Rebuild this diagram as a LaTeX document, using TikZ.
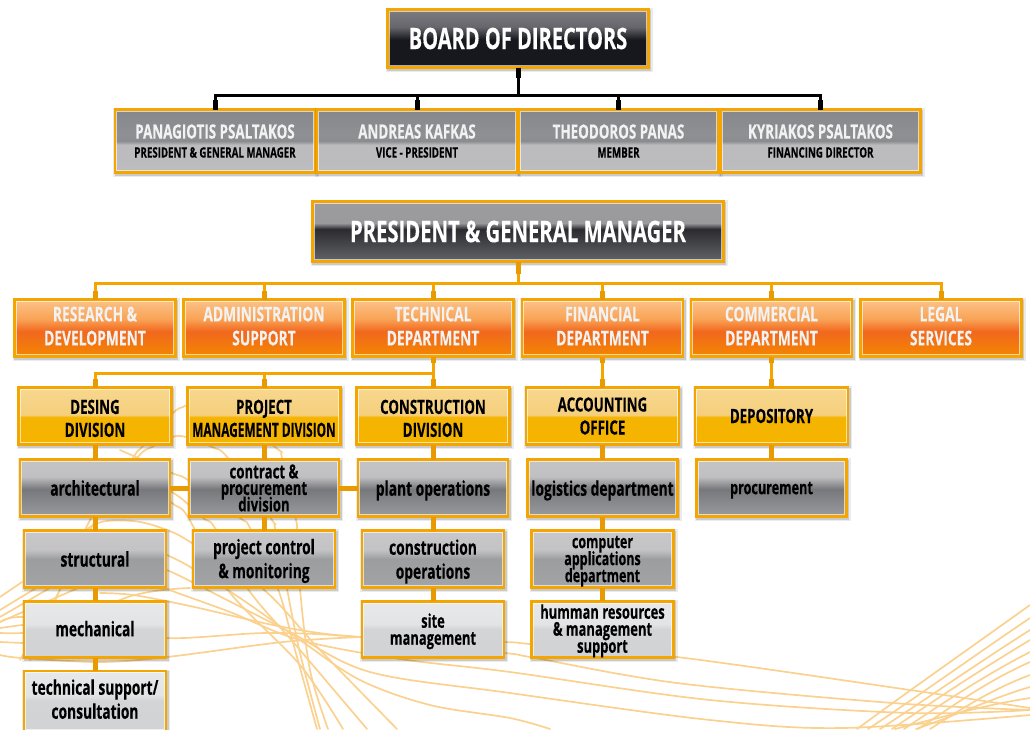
\documentclass[tikz,border=0pt]{standalone}
\usepackage{fontspec}
\setmainfont{Open Sans}[FakeStretch=0.68,FakeBold=0.25]
\usetikzlibrary{shadows,positioning}
\definecolor{boxedge}{HTML}{F5A500}
\definecolor{stubor}{HTML}{E99A00}
\definecolor{wave}{HTML}{FBD18F}
\definecolor{nametxt}{HTML}{F2F2F2}
\pgfdeclareverticalshading{sBoard}{100bp}{rgb(0bp)=(.09,.094,.114);rgb(25bp)=(.09,.094,.114);rgb(49bp)=(.09,.094,.114);rgb(60bp)=(.40,.40,.425);rgb(75bp)=(.486,.486,.51);rgb(100bp)=(.486,.486,.51)}
\pgfdeclareverticalshading{sMember}{100bp}{rgb(0bp)=(.74,.74,.75);rgb(25bp)=(.74,.74,.75);rgb(47bp)=(.737,.737,.745);rgb(50bp)=(.545,.549,.565);rgb(55bp)=(.56,.565,.58);rgb(75bp)=(.525,.53,.545);rgb(100bp)=(.525,.53,.545)}
\pgfdeclareverticalshading{sPres}{100bp}{rgb(0bp)=(.388,.392,.408);rgb(25bp)=(.388,.392,.408);rgb(52bp)=(.169,.169,.188);rgb(57bp)=(.604,.604,.612);rgb(75bp)=(.612,.612,.62);rgb(100bp)=(.612,.612,.62)}
\pgfdeclareverticalshading{sDept}{100bp}{rgb(0bp)=(.957,.525,0);rgb(25bp)=(.957,.525,0);rgb(47bp)=(.945,.408,.118);rgb(58bp)=(.976,.64,.337);rgb(75bp)=(.984,.765,.537);rgb(100bp)=(.984,.765,.537)}
\pgfdeclareverticalshading{sDiv}{100bp}{rgb(0bp)=(.961,.706,0);rgb(25bp)=(.961,.706,0);rgb(49bp)=(.961,.706,0);rgb(51bp)=(.961,.81,.486);rgb(75bp)=(.969,.847,.561);rgb(100bp)=(.969,.847,.561)}
\pgfdeclareverticalshading{sDark}{100bp}{rgb(0bp)=(.604,.608,.62);rgb(25bp)=(.604,.608,.62);rgb(49bp)=(.467,.471,.486);rgb(60bp)=(.753,.749,.761);rgb(75bp)=(.769,.765,.776);rgb(100bp)=(.769,.765,.776)}
\pgfdeclareverticalshading{sMid}{100bp}{rgb(0bp)=(.64,.643,.65);rgb(25bp)=(.64,.643,.65);rgb(50bp)=(.612,.616,.624);rgb(58bp)=(.765,.765,.773);rgb(75bp)=(.784,.784,.792);rgb(100bp)=(.784,.784,.792)}
\pgfdeclareverticalshading{sLight}{100bp}{rgb(0bp)=(.824,.827,.835);rgb(25bp)=(.824,.827,.835);rgb(50bp)=(.827,.831,.839);rgb(55bp)=(.89,.894,.898);rgb(75bp)=(.906,.91,.914);rgb(100bp)=(.906,.91,.914)}
\newcommand{\sz}[2]{\fontsize{#1}{#2}\selectfont\lineskiplimit=-100pt\relax}
\newcommand{\dropline}{\rule{0pt}{19pt}}
\tikzset{
  base/.style={rectangle,draw=boxedge,line width=2.6pt,inner sep=0pt,outer sep=0pt,align=center,text=black,
    drop shadow={shadow xshift=1pt,shadow yshift=-1.5pt,opacity=.08,fill=black,draw=black,line width=6pt},
    drop shadow={shadow xshift=1pt,shadow yshift=-1.5pt,opacity=.14,fill=black,draw=black,line width=3pt},
    path picture={\draw[white,opacity=.65,line width=.7pt]
      ([xshift=1.8pt,yshift=1.8pt]path picture bounding box.south west) rectangle
      ([xshift=-1.8pt,yshift=-1.8pt]path picture bounding box.north east);},
    font=\bfseries\sz{20.3}{24}},
  boardbox/.style={base,minimum width=261pt,minimum height=58pt,shading=sBoard,text=white,font=\bfseries\sz{29.5}{30}},
  memberbox/.style={base,minimum width=200pt,minimum height=63pt,shading=sMember,font=\bfseries\sz{19.7}{19}},
  presbox/.style={base,minimum width=411pt,minimum height=60pt,shading=sPres,text=white,font=\bfseries\sz{29.8}{30}},
  deptbox/.style={base,minimum width=161pt,minimum height=57pt,shading=sDept,text=nametxt,text depth=4pt},
  divbox/.style={base,minimum width=153pt,minimum height=57pt,shading=sDiv,font=\bfseries\sz{19.6}{23}},
  darkbox/.style={base,minimum width=150pt,minimum height=57pt,shading=sDark},
  midbox/.style={base,minimum width=142pt,minimum height=57pt,shading=sMid},
  lightbox/.style={base,minimum width=142pt,minimum height=56.5pt,shading=sLight},
  tight/.style={font=\bfseries\sz{19}{17}},
  busk/.style={draw=black,line width=3pt},
  stubk/.style={draw=black,line width=5pt},
  buso/.style={draw=boxedge,line width=3pt},
  stubo/.style={draw=stubor,line width=5pt},
  wavy/.style={draw=wave,line width=1.7pt,line cap=round},
}
\newcommand{\wv}[1]{\draw[wavy] plot[smooth,tension=.55] coordinates {#1};}
\begin{document}
\begin{tikzpicture}[x=1pt,y=-1pt]
\clip (0,0) rectangle (1030,729);
% background waves
\wv{(20,660)(60,590)(90,530)(133,458)(142,447)(173,413)(185,406)(215,392)}
\wv{(40,640)(90,520)(137,458)(152,447)(172,437)(186,437)(212,447)(228,458)(272,520)(275,528)(287,589)(300,653)(320,729)}
\wv{(200,390)(275,447)(282,458)(296,520)(297,528)(300,589)(310,670)(328,729)}
\wv{(120,450)(172,473)(188,480)(240,518)(250,528)(278,589)(295,650)(317,729)}
\wv{(120,470)(172,492)(203,518)(215,528)(248,589)(300,650)(367,729)}
\wv{(130,470)(172,503)(188,517)(227,589)(300,665)(343,729)}
\wv{(60,560)(93,525)(133,521)(167,530)(192,543)(263,589)(320,650)(397,729)}
\wv{(110,530)(167,555)(192,568)(240,598)(300,640)(360,680)(430,705)(510,718)(550,729)}
\wv{(120,550)(167,570)(192,582)(227,600)(290,632)(370,672)(510,693)(710,720)(843,728)(1030,715)}
\wv{(120,570)(167,589)(230,612)(300,640)(400,659)(510,672)(710,700)(910,713)(1030,710)}
\wv{(100,593)(133,595)(190,606)(283,627)(360,637)(505,642)(530,644)(677,657)(910,690)(1030,708)}
\wv{(0,622)(22,617)(100,625)(167,638)(267,633)(360,637)(505,653)(530,657)(677,683)(893,703)(1030,710)}
\wv{(0,655)(22,658)(100,662)(167,657)(283,642)(360,637)}
\wv{(0,597)(22,582)}
\wv{(0,610)(33,590)(60,575)}
\wv{(0,617)(48,589)(70,575)}
\wv{(0,622)(76,589)(100,580)}
\wv{(0,628)(22,625)(60,620)}
\wv{(0,633)(22,633)(60,630)}
\wv{(0,642)(22,643)(60,645)}
\wv{(30,660)(120,600)(190,588)}
\draw[wavy] (1030,605) .. controls (970,648) and (910,690) .. (857,729);
\draw[wavy] (1030,618) .. controls (975,655) and (920,695) .. (868,729);
\draw[wavy] (1030,630) .. controls (975,665) and (925,700) .. (880,729);
\draw[wavy] (1030,640) .. controls (980,670) and (935,700) .. (892,729);
\draw[wavy] (1030,652) .. controls (985,675) and (940,705) .. (904,729);
\draw[wavy] (1030,662) .. controls (985,682) and (950,708) .. (918,729);
\draw[wavy] (1030,675) .. controls (990,690) and (960,710) .. (930,729);
\draw[wavy] (1030,687) .. controls (995,697) and (965,712) .. (916,729);
\draw[wavy] (1030,698) .. controls (990,704) and (950,715) .. (895,729);
% boxes
\node[boardbox] (board) at (518,38.5) {BOARD OF DIRECTORS};
\node[memberbox] (m1) at (215,141) {\textcolor{nametxt}{PANAGIOTIS PSALTAKOS}\\{\sz{14.3}{15}PRESIDENT \& GENERAL MANAGER}};
\node[memberbox] (m2) at (417,141) {\textcolor{nametxt}{ANDREAS KAFKAS}\\{\sz{14.3}{15}VICE - PRESIDENT}};
\node[memberbox] (m3) at (618.5,141) {\textcolor{nametxt}{THEODOROS PANAS}\\{\sz{14.3}{15}MEMBER}};
\node[memberbox] (m4) at (820.5,141) {\textcolor{nametxt}{KYRIAKOS PSALTAKOS}\\{\sz{14.3}{15}FINANCING DIRECTOR}};
\node[presbox] (pres) at (518,231.5) {PRESIDENT \& GENERAL MANAGER};
\node[deptbox] (d1) at (95,328) {RESEARCH \&\\DEVELOPMENT};
\node[deptbox] (d2) at (264,328) {ADMINISTRATION\\SUPPORT};
\node[deptbox] (d3) at (433,328) {TECHNICAL\\DEPARTMENT};
\node[deptbox] (d4) at (602.5,328) {FINANCIAL\\DEPARTMENT};
\node[deptbox] (d5) at (771.5,328) {COMMERCIAL\\DEPARTMENT};
\node[deptbox] (d6) at (941,328) {LEGAL\\SERVICES};
\node[divbox] (v1) at (95,416) {\dropline DESING\\DIVISION};
\node[divbox] (v2) at (264,416) {\dropline PROJECT\\\scalebox{0.89}[1]{MANAGEMENT DIVISION}};
\node[divbox] (v3) at (433,416) {\dropline CONSTRUCTION\\DIVISION};
\node[divbox] (v4) at (602.5,416) {ACCOUNTING\\OFFICE};
\node[divbox] (v5) at (771.5,416) {DEPOSITORY};
\node[darkbox] (a1) at (95,488) {architectural};
\node[darkbox,font=\bfseries\sz{19.4}{16.5}] (a2) at (264,488) {contract \&\\procurement\\division};
\node[darkbox,text depth=0pt] (a3) at (433,488) {plant operations};
\node[darkbox,text depth=0pt] (a4) at (602.5,488) {logistics department};
\node[darkbox,font=\bfseries\sz{18.6}{17},text depth=0pt] (a5) at (771.5,488) {procurement};
\node[midbox] (b1) at (95,559) {structural};
\node[midbox,text depth=1pt] (b2) at (264,559) {project control\\\& monitoring};
\node[midbox,text depth=0pt] (b3) at (433,559) {construction\\operations};
\node[midbox,font=\bfseries\sz{18.4}{17},text depth=0pt] (b4) at (602.5,559) {computer\\applications\\department};
\node[lightbox,text depth=2pt] (c1) at (95,629.5) {mechanical};
\node[lightbox,tight,text depth=1pt] (c3) at (433,629.5) {site\\management};
\node[lightbox,tight,text depth=2pt] (c4) at (602.5,629.5) {humman resources\\\& management\\support};
\node[lightbox,minimum height=60pt,text depth=4pt] (e1) at (95,701) {technical support/\\consultation};
% connectors
\coordinate (busA) at (518,95);
\coordinate (busB) at (518,283);
\coordinate (busC) at (433,373);
\draw[busk] (board.south) -- (busA);
\foreach \n in {m1,m2,m3,m4} {
  \draw[busk] (\n.north) |- (busA);
  \draw[stubk] (\n.north) -- ++(0,-10);
}
\draw[stubk] (board.south) -- ++(0,10);
\draw[buso] (pres.south) -- (busB);
\draw[stubo] (pres.south) -- ++(0,12);
\foreach \n in {d1,d2,d3,d4,d5,d6} {
  \draw[buso] (\n.north) |- (busB);
  \draw[stubo] (\n.north) -- ++(0,-9);
}
\draw[buso] (d3.south) -- (busC);
\foreach \n in {v1,v2,v3} {
  \draw[buso] (\n.north) |- (busC);
  \draw[stubo] (\n.north) -- ++(0,-9);
}
\draw[buso] (d4.south) -- (v4.north);
\draw[stubo] (v4.north) -- ++(0,-9);
\draw[buso] (d5.south) -- (v5.north);
\draw[stubo] (v5.north) -- ++(0,-9);
\draw[stubo] (d3.south) -- ++(0,6);
\draw[stubo] (d4.south) -- ++(0,6);
\draw[stubo] (d5.south) -- ++(0,6);
\foreach \p/\q in {v1/a1,v2/a2,v3/a3,v4/a4,v5/a5,a1/b1,a2/b2,a3/b3,a4/b4,b1/c1,b3/c3,b4/c4,c1/e1}
  \draw[stubo] (\p.south) -- (\q.north);
\draw[stubo] (a1.east) -- (a2.west);
\draw[stubo] (a2.east) -- (a3.west);
\end{tikzpicture}
\end{document}
